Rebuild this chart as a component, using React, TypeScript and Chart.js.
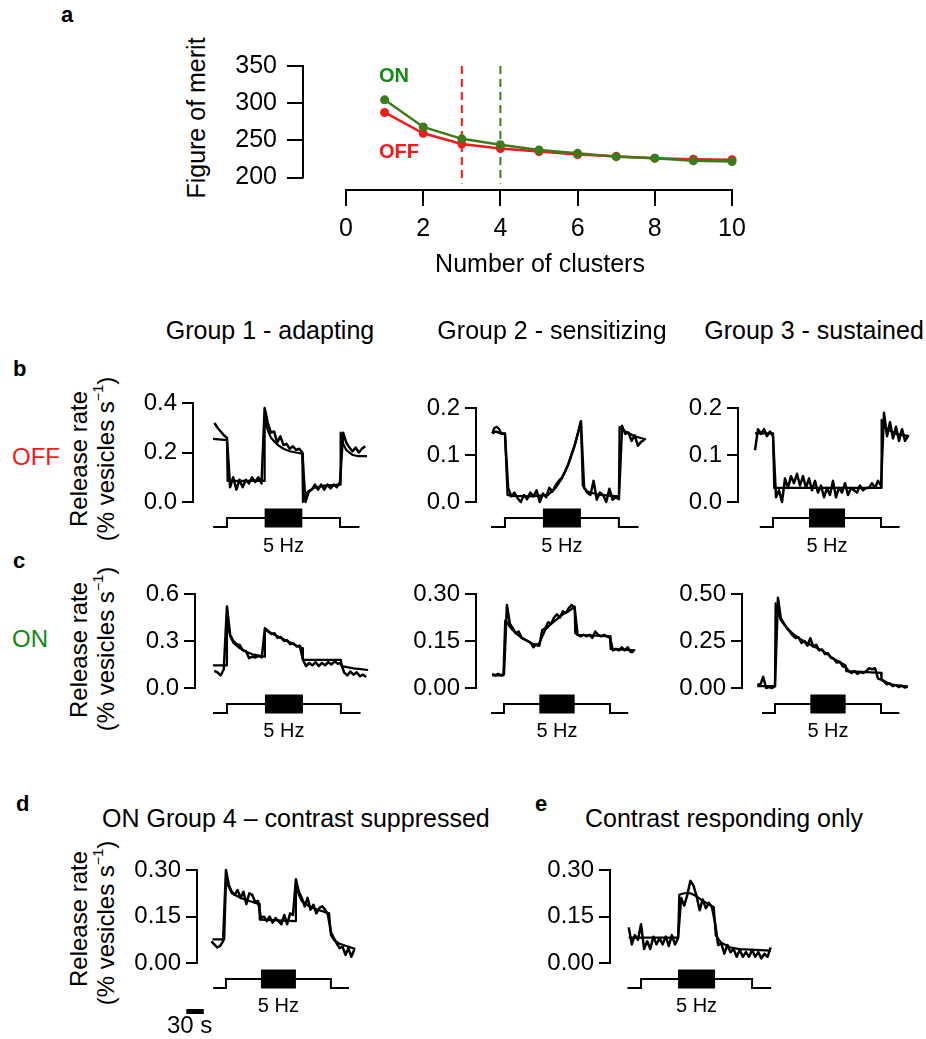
import React, { useEffect, useRef } from "react";
import { Chart, registerables } from "chart.js";
Chart.register(...registerables);

const FONT = "'Liberation Sans', Arial, Helvetica, sans-serif";
Chart.defaults.font.family = FONT;
Chart.defaults.color = "#000";

const RED = "#f41a1a";
const GREEN_LINE = "#3d7a1c";
const GREEN_TEXT = "#128a12";

// ---------- Panel a ----------
const clusterCounts = [1, 2, 3, 4, 5, 6, 7, 8, 9, 10];
const meritON = [304.5, 268, 252, 244, 237, 232.5, 228, 226, 222.5, 221.5];
const meritOFF = [287.5, 259.5, 245, 239, 235, 231, 228.5, 226, 224.5, 224];
const clusterTicks = [0, 2, 4, 6, 8, 10];
const meritTicks = [200, 250, 300, 350];
const chosenOFF = 3;
const chosenON = 4;
const markerSpan = [350, 192];

// ---------- Shared time base (s) ----------
const sampleT = [
  -10, -5, 0, 5, 10, 15, 20, 25, 30, 35, 40, 45, 50, 55, 60, 65, 70, 75, 80, 85,
  90, 95, 100, 105, 110, 115, 120, 125, 130, 135, 140, 145, 150, 155, 160, 165,
  170, 175, 180, 185, 190, 195, 200, 205, 210, 215, 220, 225, 230, 235, 240, 245,
];

// stimulus protocol
const stimT = [-2, 20, 20, 200, 200, 231];
const stimLevel = [0, 0, 1, 1, 0, 0];
const flickerT = [80, 140];
const flickerLevel = [1, 1];
const scaleBarT = [-48, -18];

// ---------- b: OFF ----------
const b1Ticks = [0, 0.2, 0.4];
const b1TickLabels = ["0.0", "0.2", "0.4"];
const b1Data = [
  null, null, 0.32, 0.3, 0.285, 0.27, 0.26, 0.06, 0.1, 0.05, 0.09, 0.06, 0.09, 0.075, 0.1, 0.08, 0.1, 0.075, 0.38, 0.32,
  0.28, 0.285, 0.24, 0.265, 0.23, 0.235, 0.215, 0.225, 0.21, 0.215, 0.2, 0.0, 0.04, 0.05, 0.07, 0.05,
  0.07, 0.05, 0.07, 0.055, 0.07, 0.06, 0.08, 0.28, 0.24, 0.22, 0.205, 0.22, 0.2, 0.215, 0.225, null,
];
const b1FitT = [-2, 20, 21, 79, 80, 85, 90, 100, 110, 120, 130, 140, 141, 145, 150, 160, 175, 200, 201, 205, 210, 220, 230, 243];
const b1FitV = [0.255, 0.25, 0.085, 0.085, 0.34, 0.29, 0.26, 0.232, 0.215, 0.205, 0.2, 0.195, 0.0, 0.03, 0.045, 0.058, 0.066, 0.07, 0.28, 0.235, 0.21, 0.19, 0.185, 0.185];

const b2Ticks = [0, 0.1, 0.2];
const b2TickLabels = ["0.0", "0.1", "0.2"];
const b2Data = [
  null, null, 0.146, 0.15, 0.148, 0.145, 0.145, 0.03, 0.012, 0.02, 0.008, 0.0, 0.015, 0.006, 0.02, 0.012, 0.025, 0.0, 0.018, 0.01,
  0.03, 0.022, 0.035, 0.045, 0.052, 0.065, 0.08, 0.1, 0.12, 0.145, 0.172, 0.03, 0.02, 0.015, 0.045, 0.005,
  0.02, 0.015, 0.0, 0.028, 0.005, 0.01, 0.006, 0.162, 0.145, 0.148, 0.13, 0.142, 0.12, 0.128, 0.132, null,
];
const b2FitT = [0, 3, 7, 11, 14, 20, 24, 30, 60, 88, 100, 110, 120, 130, 135, 140, 143, 150, 170, 200, 201, 210, 225, 243];
const b2FitV = [0.146, 0.157, 0.16, 0.155, 0.146, 0.146, 0.015, 0.013, 0.012, 0.015, 0.03, 0.05, 0.08, 0.12, 0.145, 0.17, 0.035, 0.022, 0.015, 0.012, 0.16, 0.15, 0.14, 0.133];

const b3Ticks = [0, 0.1, 0.2];
const b3TickLabels = ["0.0", "0.1", "0.2"];
const b3Data = [
  0.11, 0.155, 0.145, 0.155, 0.14, 0.15, 0.14, 0.01, 0.025, 0.0, 0.05, 0.03, 0.055, 0.04, 0.06, 0.035, 0.055, 0.03, 0.05, 0.025,
  0.045, 0.02, 0.035, 0.01, 0.03, 0.015, 0.045, 0.01, 0.03, 0.02, 0.04, 0.015, 0.03, 0.025, 0.02, 0.035,
  0.025, 0.03, 0.03, 0.04, 0.03, 0.045, 0.035, 0.19, 0.14, 0.17, 0.135, 0.16, 0.13, 0.155, 0.13, 0.14,
];
const b3FitT = [-10, 20, 22, 200, 201, 210, 225, 247];
const b3FitV = [0.146, 0.146, 0.03, 0.03, 0.175, 0.155, 0.145, 0.14];

// ---------- c: ON ----------
const c1Ticks = [0, 0.3, 0.6];
const c1TickLabels = ["0.0", "0.3", "0.6"];
const c1Data = [
  null, null, 0.11, 0.1, 0.08, 0.12, 0.52, 0.34, 0.3, 0.28, 0.275, 0.24, 0.235, 0.19, 0.2, 0.195, 0.205, 0.195, 0.38, 0.36,
  0.345, 0.35, 0.32, 0.325, 0.3, 0.305, 0.28, 0.285, 0.265, 0.27, 0.18, 0.14, 0.16, 0.145, 0.165, 0.14,
  0.16, 0.145, 0.165, 0.15, 0.17, 0.155, 0.16, 0.1, 0.08, 0.105, 0.085, 0.1, 0.075, 0.085, 0.07, null,
];
const c1FitT = [-2, 19, 20, 25, 30, 40, 50, 60, 79, 80, 90, 100, 110, 120, 130, 139, 140, 200, 201, 220, 243];
const c1FitV = [0.145, 0.145, 0.45, 0.33, 0.29, 0.255, 0.232, 0.215, 0.2, 0.38, 0.35, 0.33, 0.31, 0.29, 0.27, 0.255, 0.18, 0.18, 0.14, 0.125, 0.115];

const c2Ticks = [0, 0.15, 0.3];
const c2TickLabels = ["0.00", "0.15", "0.30"];
const c2Data = [
  null, null, 0.045, 0.04, 0.045, 0.04, 0.045, 0.265, 0.205, 0.19, 0.175, 0.18, 0.16, 0.155, 0.15, 0.145, 0.13, 0.14, 0.135, 0.185,
  0.19, 0.21, 0.205, 0.225, 0.235, 0.225, 0.245, 0.24, 0.255, 0.265, 0.255, 0.17, 0.165, 0.17, 0.165, 0.17,
  0.16, 0.18, 0.17, 0.165, 0.17, 0.165, 0.16, 0.12, 0.125, 0.12, 0.13, 0.12, 0.13, 0.115, 0.115, null,
];
const c2FitT = [0, 19, 22, 25, 30, 40, 50, 60, 70, 78, 90, 100, 110, 120, 130, 140, 141, 145, 200, 201, 243];
const c2FitV = [0.04, 0.04, 0.215, 0.21, 0.195, 0.175, 0.16, 0.15, 0.14, 0.135, 0.185, 0.205, 0.22, 0.235, 0.245, 0.26, 0.175, 0.17, 0.165, 0.125, 0.12];

const c3Ticks = [0, 0.25, 0.5];
const c3TickLabels = ["0.00", "0.25", "0.50"];
const c3Data = [
  0.02, 0.015, 0.06, 0.0, 0.005, 0.0, 0.01, 0.48, 0.37, 0.345, 0.32, 0.3, 0.28, 0.265, 0.27, 0.24, 0.25, 0.225, 0.265, 0.22,
  0.23, 0.2, 0.205, 0.18, 0.185, 0.16, 0.155, 0.135, 0.14, 0.115, 0.11, 0.09, 0.08, 0.09, 0.075, 0.085,
  0.08, 0.09, 0.105, 0.1, 0.105, 0.05, 0.045, 0.035, 0.02, 0.025, 0.01, 0.015, 0.005, 0.012, 0.003, 0.006,
];
const c3FitT = [-10, 20, 21, 25, 30, 40, 50, 60, 80, 100, 120, 140, 141, 200, 201, 215, 246];
const c3FitV = [0.01, 0.01, 0.45, 0.4, 0.36, 0.32, 0.29, 0.265, 0.23, 0.2, 0.155, 0.12, 0.09, 0.08, 0.045, 0.02, 0.008];

// ---------- d: ON group 4 ----------
const dTicks = [0, 0.15, 0.3];
const dTickLabels = ["0.00", "0.15", "0.30"];
const dData = [
  null, 0.07, 0.06, 0.05, 0.055, 0.07, 0.3, 0.252, 0.23, 0.22, 0.235, 0.21, 0.23, 0.19, 0.225, 0.22, 0.197, 0.2, 0.145, 0.15,
  0.135, 0.15, 0.13, 0.145, 0.135, 0.125, 0.155, 0.125, 0.16, 0.155, 0.27, 0.23, 0.21, 0.183, 0.21, 0.172,
  0.188, 0.16, 0.177, 0.183, 0.172, 0.155, 0.1, 0.08, 0.063, 0.048, 0.053, 0.026, 0.048, 0.02, 0.043, null,
];
const dFitT = [-3, 17, 20, 25, 30, 45, 60, 77, 78, 139, 140, 145, 150, 165, 180, 197, 200, 205, 215, 242];
const dFitV = [0.076, 0.076, 0.26, 0.245, 0.225, 0.21, 0.2, 0.19, 0.14, 0.135, 0.26, 0.22, 0.2, 0.18, 0.17, 0.16, 0.09, 0.075, 0.062, 0.045];

// ---------- e: contrast responding only ----------
const eTicks = [0, 0.15, 0.3];
const eTickLabels = ["0.00", "0.15", "0.30"];
const eData = [
  null, null, 0.115, 0.06, 0.09, 0.075, 0.125, 0.045, 0.07, 0.045, 0.085, 0.06, 0.08, 0.06, 0.085, 0.055, 0.09, 0.06, 0.08, 0.21,
  0.185, 0.22, 0.265, 0.25, 0.215, 0.17, 0.205, 0.177, 0.194, 0.18, 0.13, 0.058, 0.063, 0.03, 0.058, 0.035,
  0.045, 0.02, 0.042, 0.02, 0.035, 0.02, 0.042, 0.02, 0.035, 0.015, 0.03, 0.02, 0.05, null, null, null,
];
const eFitT = [0, 80, 82, 90, 100, 110, 120, 130, 138, 141, 150, 165, 180, 230];
const eFitV = [0.082, 0.082, 0.22, 0.225, 0.225, 0.215, 0.2, 0.19, 0.18, 0.09, 0.065, 0.05, 0.045, 0.04];

// ---------- helpers ----------
const pts = (xs: number[], ys: (number | null)[]) =>
  xs.map((x, i) => ({ x, y: ys[i] })).filter((p) => p.y !== null && p.y !== undefined);

type Spec = { left: number; top: number; width: number; height: number; make: () => any };

const rangeFrame = {
  id: "rangeFrame",
  afterDraw(chart: any) {
    const { ctx, chartArea } = chart;
    const xs = chart.scales.x;
    const ys = chart.scales.y;
    ctx.save();
    ctx.strokeStyle = "#000";
    ctx.lineWidth = 2;
    ctx.beginPath();
    ctx.moveTo(chartArea.left, ys.getPixelForValue(meritTicks[0]) + 1);
    ctx.lineTo(chartArea.left, ys.getPixelForValue(meritTicks[meritTicks.length - 1]) - 1);
    ctx.moveTo(xs.getPixelForValue(clusterTicks[0]) - 1, chartArea.bottom);
    ctx.lineTo(xs.getPixelForValue(clusterTicks[clusterTicks.length - 1]) + 1, chartArea.bottom);
    ctx.stroke();
    ctx.restore();
  },
};

function panelASpec(): Spec {
  const left = 213, top = 41, width = 549, height = 209;
  const yAxisW = 90, xAxisH = 60, padTop = 20, padRight = 30;
  const px0 = 346, px10 = 732, py350 = 61, py200 = 177;
  const chartLeft = left + yAxisW;
  const chartBottom = top + height - xAxisH;
  const xMin = ((chartLeft - px0) / (px10 - px0)) * 10;
  const yMin = 200 - ((chartBottom - py200) * 150) / (py200 - py350);
  const make = () => ({
    type: "line",
    data: {
      datasets: [
        {
          data: pts(clusterCounts, meritON),
          borderColor: GREEN_LINE,
          backgroundColor: GREEN_LINE,
          pointBackgroundColor: GREEN_LINE,
          pointBorderWidth: 0,
          pointRadius: 4.5,
          borderWidth: 2.5,
          clip: false,
        },
        {
          data: pts(clusterCounts, meritOFF),
          borderColor: RED,
          backgroundColor: RED,
          pointBackgroundColor: RED,
          pointBorderWidth: 0,
          pointRadius: 4.5,
          borderWidth: 2.5,
          clip: false,
        },
        {
          data: pts([chosenOFF, chosenOFF], markerSpan),
          borderColor: RED,
          borderWidth: 2,
          borderDash: [8, 5],
          pointRadius: 0,
          clip: false,
        },
        {
          data: pts([chosenON, chosenON], markerSpan),
          borderColor: GREEN_LINE,
          borderWidth: 2,
          borderDash: [8, 5],
          pointRadius: 0,
          clip: false,
        },
      ],
    },
    options: {
      responsive: false,
      animation: false,
      events: [],
      layout: { padding: { left: 0, top: padTop, right: padRight, bottom: 0 } },
      plugins: { legend: { display: false }, tooltip: { enabled: false } },
      scales: {
        x: {
          type: "linear",
          min: xMin,
          max: 10,
          afterFit: (s: any) => {
            s.height = xAxisH;
          },
          afterBuildTicks: (s: any) => {
            s.ticks = clusterTicks.map((v) => ({ value: v }));
          },
          border: { display: false },
          grid: { drawOnChartArea: false, drawTicks: true, tickLength: 16, lineWidth: 2, color: "#000" },
          ticks: { font: { size: 25, family: FONT }, color: "#000", padding: 8, maxRotation: 0, autoSkip: false },
        },
        y: {
          type: "linear",
          min: yMin,
          max: 350,
          afterFit: (s: any) => {
            s.width = yAxisW;
          },
          afterBuildTicks: (s: any) => {
            s.ticks = meritTicks.map((v) => ({ value: v }));
          },
          border: { display: false },
          grid: { drawOnChartArea: false, drawTicks: true, tickLength: 16, lineWidth: 2, color: "#000" },
          ticks: { font: { size: 25, family: FONT }, color: "#000", padding: 10, autoSkip: false },
        },
      },
    },
    plugins: [rangeFrame],
  });
  return { left, top, width, height, make };
}

type Geo = {
  axisX: number;
  yTop: number;
  yBot: number;
  x0: number;
  pxPerS: number;
  stimBase: number;
  stimStep: number;
  barY?: number;
};

function traceSpec(
  g: Geo,
  ticks: number[],
  tickLabels: string[],
  dataV: (number | null)[],
  fitT: number[],
  fitV: number[]
): Spec {
  const YW = 70, PT = 25, PR = 10;
  const left = g.axisX - YW;
  const top = g.yTop - PT;
  const chartRightWanted = g.x0 + g.pxPerS * 250;
  const width = Math.round(chartRightWanted - left + PR);
  const padB = g.stimBase - g.yBot + (g.barY ? 40 : 14);
  const height = g.yBot - top + padB;
  const chartRight = left + width - PR;
  const xMin = (g.axisX - g.x0) / g.pxPerS;
  const xMax = (chartRight - g.x0) / g.pxPerS;
  const sMin = (g.stimBase - g.yBot) / g.stimStep;
  const sMax = (g.stimBase - g.yTop) / g.stimStep;
  const line = (extra: any) => ({
    borderColor: "#000",
    pointRadius: 0,
    clip: false,
    tension: 0,
    borderJoinStyle: "round",
    ...extra,
  });
  const make = () => {
    const datasets: any[] = [
      line({ data: pts(fitT, fitV), borderWidth: 2.2, yAxisID: "y" }),
      line({ data: pts(sampleT, dataV), borderWidth: 2.5, yAxisID: "y" }),
      line({ data: pts(stimT, stimLevel), borderWidth: 2, yAxisID: "ys", borderJoinStyle: "miter" }),
      line({ data: pts(flickerT, flickerLevel), borderWidth: 2 * g.stimStep + 1, borderCapStyle: "butt", yAxisID: "ys" }),
    ];
    if (g.barY) {
      const lv = (g.stimBase - g.barY) / g.stimStep;
      datasets.push(line({ data: pts(scaleBarT, [lv, lv]), borderWidth: 5, borderCapStyle: "butt", yAxisID: "ys" }));
    }
    return {
      type: "line",
      data: { datasets },
      options: {
        responsive: false,
        animation: false,
        events: [],
        layout: { padding: { left: 0, top: PT, right: PR, bottom: padB } },
        plugins: { legend: { display: false }, tooltip: { enabled: false } },
        scales: {
          x: { type: "linear", display: false, min: xMin, max: xMax },
          ys: { type: "linear", display: false, min: sMin, max: sMax, position: "left" },
          y: {
            type: "linear",
            position: "left",
            min: ticks[0],
            max: ticks[ticks.length - 1],
            afterFit: (s: any) => {
              s.width = YW;
            },
            afterBuildTicks: (s: any) => {
              s.ticks = ticks.map((v) => ({ value: v }));
            },
            border: { display: true, width: 2, color: "#000" },
            grid: { drawOnChartArea: false, drawTicks: true, tickLength: 11, lineWidth: 2, color: "#000" },
            ticks: {
              font: { size: 24, family: FONT },
              color: "#000",
              padding: 5,
              autoSkip: false,
              callback: (_v: any, i: number) => tickLabels[i],
            },
          },
        },
      },
    };
  };
  return { left, top, width, height, make };
}

const geoB1: Geo = { axisX: 193, yTop: 403, yBot: 502, x0: 214.4, pxPerS: 0.628, stimBase: 527, stimStep: 9 };
const geoB2: Geo = { axisX: 476, yTop: 408, yBot: 502, x0: 492.3, pxPerS: 0.633, stimBase: 527, stimStep: 9 };
const geoB3: Geo = { axisX: 738, yTop: 408, yBot: 502, x0: 761, pxPerS: 0.6, stimBase: 527, stimStep: 9 };
const geoC1: Geo = { axisX: 195, yTop: 594, yBot: 688, x0: 214.3, pxPerS: 0.633, stimBase: 713, stimStep: 9 };
const geoC2: Geo = { axisX: 476, yTop: 594, yBot: 688, x0: 492.2, pxPerS: 0.589, stimBase: 713, stimStep: 9 };
const geoC3: Geo = { axisX: 742, yTop: 594, yBot: 688, x0: 763.2, pxPerS: 0.589, stimBase: 713, stimStep: 9 };
const geoD: Geo = { axisX: 197, yTop: 870, yBot: 963, x0: 214.3, pxPerS: 0.583, stimBase: 988, stimStep: 9, barY: 1011.5 };
const geoE: Geo = { axisX: 610, yTop: 870, yBot: 963, x0: 628.7, pxPerS: 0.617, stimBase: 988, stimStep: 9 };

const specs: Spec[] = [
  panelASpec(),
  traceSpec(geoB1, b1Ticks, b1TickLabels, b1Data, b1FitT, b1FitV),
  traceSpec(geoB2, b2Ticks, b2TickLabels, b2Data, b2FitT, b2FitV),
  traceSpec(geoB3, b3Ticks, b3TickLabels, b3Data, b3FitT, b3FitV),
  traceSpec(geoC1, c1Ticks, c1TickLabels, c1Data, c1FitT, c1FitV),
  traceSpec(geoC2, c2Ticks, c2TickLabels, c2Data, c2FitT, c2FitV),
  traceSpec(geoC3, c3Ticks, c3TickLabels, c3Data, c3FitT, c3FitV),
  traceSpec(geoD, dTicks, dTickLabels, dData, dFitT, dFitV),
  traceSpec(geoE, eTicks, eTickLabels, eData, eFitT, eFitV),
];

function ChartCanvas({ spec }: { spec: Spec }) {
  const ref = useRef<HTMLCanvasElement>(null);
  useEffect(() => {
    const chart = new Chart(ref.current as HTMLCanvasElement, spec.make());
    return () => chart.destroy();
  }, [spec]);
  return (
    <canvas
      ref={ref}
      width={spec.width}
      height={spec.height}
      style={{ position: "absolute", left: spec.left, top: spec.top, width: spec.width, height: spec.height }}
    />
  );
}

function Txt(props: { x: number; y: number; size: number; children: React.ReactNode; mid?: boolean; bold?: boolean; color?: string }) {
  const { x, y, size, children, mid, bold, color } = props;
  return (
    <div
      style={{
        position: "absolute",
        left: x,
        top: y - 0.8465 * size,
        fontFamily: FONT,
        fontSize: size,
        lineHeight: `${size}px`,
        fontWeight: bold ? 700 : 400,
        color: color || "#000",
        whiteSpace: "nowrap",
        transform: mid ? "translateX(-50%)" : undefined,
      }}
    >
      {children}
    </div>
  );
}

function VTxt(props: { bx: number; cy: number; size: number; children: React.ReactNode }) {
  const { bx, cy, size, children } = props;
  return (
    <div
      style={{
        position: "absolute",
        left: bx - 0.3465 * size,
        top: cy,
        fontFamily: FONT,
        fontSize: size,
        lineHeight: `${size}px`,
        whiteSpace: "nowrap",
        transform: "translate(-50%, -50%) rotate(-90deg)",
      }}
    >
      {children}
    </div>
  );
}

const unitLabel = (
  <>
    (% vesicles s<span style={{ fontSize: "0.6em", position: "relative", top: "-0.75em" }}>−1</span>)
  </>
);

const hzCenter = (g: Geo) => g.x0 + 110 * g.pxPerS;

export default function App() {
  return (
    <div style={{ position: "absolute", left: 0, top: 0, width: 926, height: 1039, background: "#fff", overflow: "hidden" }}>
      {specs.map((s, i) => (
        <ChartCanvas key={i} spec={s} />
      ))}

      {/* panel a */}
      <Txt x={61} y={23} size={22} bold>a</Txt>
      <VTxt bx={205} cy={118} size={25}>Figure of merit</VTxt>
      <Txt x={540} y={272} size={25} mid>Number of clusters</Txt>
      <Txt x={379} y={82} size={20} bold color={GREEN_TEXT}>ON</Txt>
      <Txt x={379} y={158} size={20} bold color={RED}>OFF</Txt>

      {/* group titles */}
      <Txt x={270} y={339} size={25} mid>Group 1 - adapting</Txt>
      <Txt x={552} y={339} size={25} mid>Group 2 - sensitizing</Txt>
      <Txt x={814} y={339} size={25} mid>Group 3 - sustained</Txt>

      {/* b */}
      <Txt x={13} y={377} size={22} bold>b</Txt>
      <Txt x={12} y={465} size={24} color={RED}>OFF</Txt>
      <VTxt bx={87} cy={459} size={24}>Release rate</VTxt>
      <VTxt bx={115} cy={459} size={24}>{unitLabel}</VTxt>
      <Txt x={hzCenter(geoB1)} y={552} size={20} mid>5 Hz</Txt>
      <Txt x={hzCenter(geoB2)} y={552} size={20} mid>5 Hz</Txt>
      <Txt x={hzCenter(geoB3)} y={552} size={20} mid>5 Hz</Txt>

      {/* c */}
      <Txt x={13} y={569} size={22} bold>c</Txt>
      <Txt x={12} y={647} size={24} color={GREEN_TEXT}>ON</Txt>
      <VTxt bx={87} cy={650} size={24}>Release rate</VTxt>
      <VTxt bx={115} cy={649} size={24}>{unitLabel}</VTxt>
      <Txt x={hzCenter(geoC1)} y={737} size={20} mid>5 Hz</Txt>
      <Txt x={hzCenter(geoC2)} y={737} size={20} mid>5 Hz</Txt>
      <Txt x={hzCenter(geoC3)} y={737} size={20} mid>5 Hz</Txt>

      {/* d */}
      <Txt x={16} y={812} size={22} bold>d</Txt>
      <Txt x={102} y={827} size={25}>ON Group 4 – contrast suppressed</Txt>
      <VTxt bx={87} cy={919} size={24}>Release rate</VTxt>
      <VTxt bx={115} cy={923} size={24}>{unitLabel}</VTxt>
      <Txt x={hzCenter(geoD)} y={1012} size={20} mid>5 Hz</Txt>
      <Txt x={167} y={1033} size={24}>30 s</Txt>

      {/* e */}
      <Txt x={535} y={812} size={22} bold>e</Txt>
      <Txt x={585} y={827} size={25}>Contrast responding only</Txt>
      <Txt x={hzCenter(geoE)} y={1012} size={20} mid>5 Hz</Txt>
    </div>
  );
}
